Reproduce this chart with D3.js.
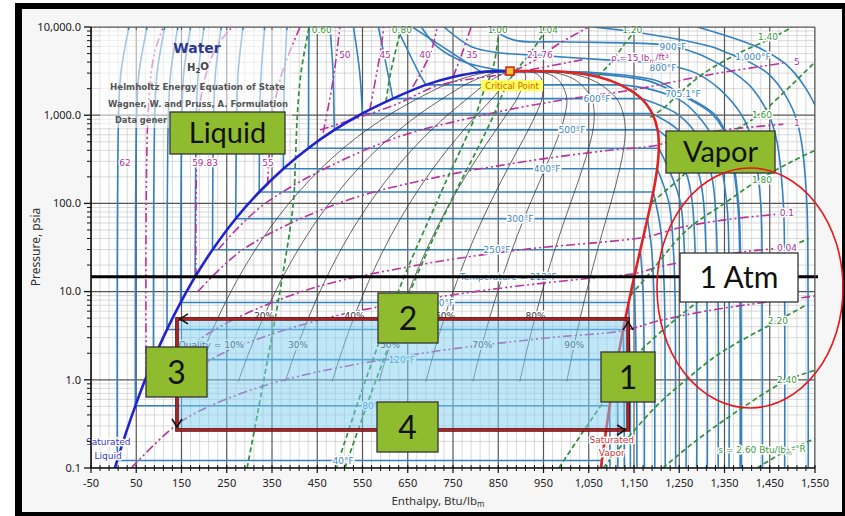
<!DOCTYPE html>
<html>
<head>
<meta charset="utf-8">
<script src="https://cdn.jsdelivr.net/npm/d3@7/dist/d3.min.js"></script>
<style>
html,body{margin:0;padding:0;background:#fff;}
svg{display:block;}
</style>
</head>
<body>
<svg id="chart" width="845" height="516"></svg>
<script>
// ================= DATA =================
const xTickVals = [-50, 50, 150, 250, 350, 450, 550, 650, 750, 850, 950, 1050, 1150, 1250, 1350, 1450, 1550];
const yTickVals = [0.1, 1, 10, 100, 1000, 10000];

// saturation table (T °F, P psia, hf, hg Btu/lbm)
const satT  = [32, 40, 60, 80, 100, 120, 140, 150, 160, 180, 200, 212, 250, 300, 350, 400, 450, 500, 550, 600, 650, 680, 700, 705.1];
const satP  = [0.0887, 0.1217, 0.2564, 0.507, 0.9505, 1.695, 2.892, 3.718, 4.745, 7.515, 11.53, 14.70, 29.84, 67.03, 134.6, 247.3, 422.6, 680.9, 1045, 1542, 2208, 2710, 3093, 3160];
const satHf = [0, 8, 28, 48, 68, 88, 108, 118, 128, 148, 168, 180, 218.6, 269.7, 321.8, 375.1, 430.2, 487.9, 549.6, 617, 690, 750, 812, 876];
const satHg = [1075.2, 1079, 1087.7, 1096.4, 1105, 1113.6, 1122, 1126.1, 1130.2, 1138.2, 1146, 1150.5, 1164, 1179.7, 1192.6, 1201.2, 1204.8, 1202.2, 1190.2, 1166.4, 1120, 1072, 1000, 876];

// isotherms (subcritical)
const isoT      = [40, 80, 120, 150, 180, 212, 250, 300, 350, 400, 450, 500, 550, 600, 650, 700];
const liqH1000  = [11, 51, 91, 121, 151, 183, 221, 272, 323, 376, 431, 487, null, null, null, null];
const liqH3000  = [16, 56, 96, 126, 155, 187, 225, 275, 326, 378, 431, 485, 544, 606, 675, null];
const liqH10000 = [34, 74, 113, 142, 170, 200, 238, 286, 334, 383, 432, 478, 530, 585, 625, 660];
const vapIso = [
  [[0.1, 1079.1]],
  [[0.1, 1096.9]],
  [[0.1, 1114.3]],
  [[1, 1127.8], [0.1, 1128.6]],
  [[1, 1141.6], [0.1, 1142]],
  [[1, 1155.6], [0.1, 1156.5]],
  [[10, 1170], [1, 1172.7], [0.1, 1173]],
  [[30, 1189], [10, 1193.8], [1, 1195.7], [0.1, 1196]],
  [[50, 1209], [10, 1217], [1, 1218.7], [0.1, 1219]],
  [[100, 1227.5], [30, 1237], [10, 1240.6], [1, 1241.8], [0.1, 1242]],
  [[200, 1234], [100, 1253], [10, 1264], [0.1, 1265]],
  [[500, 1231.2], [200, 1268], [100, 1279], [10, 1287.6], [0.1, 1288.5]],
  [[700, 1245], [500, 1266], [200, 1295], [100, 1304], [10, 1311], [0.1, 1312]],
  [[1000, 1248.8], [500, 1298.3], [200, 1322], [100, 1329.3], [10, 1335.5], [0.1, 1336]],
  [[2000, 1180], [1500, 1250], [1000, 1290], [500, 1329], [100, 1355], [10, 1360], [0.1, 1360]],
  [[3000, 1040], [2500, 1175], [2000, 1224], [1000, 1325], [500, 1357.7], [100, 1379.2], [10, 1384], [0.1, 1384.5]]
];
// isotherms (critical / supercritical), [p, h]
const superT = [705.1, 800, 900, 1000, 1100];
const superIso = [
  [[10000, 680], [6000, 715], [4000, 775], [3400, 830], [3160, 876], [3050, 1060], [2500, 1195], [2000, 1235], [1740, 1255], [1000, 1330], [500, 1360], [100, 1381], [10, 1386], [0.1, 1387]],
  [[10000, 730], [6000, 790], [5100, 850], [4800, 930], [4300, 1070], [3900, 1200], [3400, 1255], [3000, 1287], [2000, 1338], [1000, 1388], [500, 1412], [100, 1430], [10, 1433], [0.1, 1434]],
  [[10000, 830], [7100, 885], [6800, 990], [6400, 1200], [5900, 1245], [5000, 1290], [4000, 1330], [3000, 1372], [2000, 1412], [1000, 1448], [500, 1466], [100, 1480], [10, 1483], [0.1, 1483]],
  [[10000, 1060], [8500, 1170], [6000, 1320], [5000, 1360], [4000, 1405], [3000, 1445], [2000, 1475], [1000, 1506], [500, 1520], [100, 1532], [10, 1534.6], [0.1, 1535]],
  [[10000, 1290], [6000, 1420], [4000, 1480], [3000, 1505], [2000, 1530], [1300, 1550]]
];

// quality lines
const qualities = [0.1, 0.2, 0.3, 0.4, 0.5, 0.6, 0.7, 0.8, 0.9];

// isochores (lbm/ft3), [p, h]
const isochoreRho = ["62", "59.83", "55", "50", "45", "40", "35", "21.76", "15", "5", "1", "0.1", "0.04", "0.01"];
const isochores = [
  [[1.1, 72], [1000, 76], [5000, 90], [10000, 110]],
  [[14.7, 182], [1000, 188], [3000, 205], [6000, 228], [10000, 262]],
  [[160, 340], [1000, 352], [3000, 372], [10000, 412]],
  [[630, 463], [2500, 485], [10000, 500]],
  [[1140, 566], [5000, 589], [10000, 597]],
  [[2090, 661], [5000, 700], [10000, 715]],
  [[2700, 750], [5000, 770], [10000, 790]],
  [[3160, 885], [4200, 930], [6500, 985], [10000, 1050]],
  [[680, 456], [1300, 620], [2200, 721], [3000, 880], [4300, 1040]],
  [[30, 231], [100, 335], [500, 600], [1000, 816], [1500, 996], [1930, 1145], [2900, 1320], [3900, 1480]],
  [[10, 186], [30, 286], [100, 496], [200, 718], [300, 912], [400, 1095], [460, 1204], [560, 1250], [680, 1350], [790, 1480]],
  [[1, 98], [3, 195], [10, 416], [20, 673], [30, 906], [42, 1180], [53, 1250], [65, 1350], [75, 1462]],
  [[1, 145], [2, 241], [5, 470], [10, 799], [14.7, 1082], [16, 1152], [18.8, 1200], [23.7, 1300], [28.6, 1400], [30.5, 1458]],
  [[0.1, 39], [0.3, 136], [0.5, 211], [1, 378], [2, 683], [3, 962], [3.6, 1126], [4.6, 1200], [5.9, 1300], [7.1, 1400], [8.9, 1550]]
];

// isentropes (Btu/lbm-R), [p, h]
const isentropeS = ["0.60", "0.80", "1.00", "1.04", "1.20", "1.40", "1.60", "1.80", "2.00", "2.20", "2.40", "2.60"];
const isentropes = [
  [[0.1, 295], [1, 332], [14.7, 373], [100, 397], [330, 402], [1000, 406], [3000, 414], [10000, 432]],
  [[1430, 602], [3000, 612], [10000, 636]],
  [[0.1, 492], [1, 557], [14.7, 642], [100, 713], [200, 739], [500, 775], [1000, 800], [2000, 820], [3000, 835], [5000, 845], [10000, 852]],
  [[0.1, 511], [1, 580], [14.7, 669], [100, 743], [500, 812], [1000, 840], [2000, 865], [3000, 885], [5000, 920], [10000, 960]],
  [[2750, 1070], [4000, 1100], [6500, 1130], [10000, 1160]],
  [[950, 1186], [1200, 1215], [2000, 1262], [3000, 1305], [5000, 1380], [7700, 1460], [10000, 1500]],
  [[103, 1190], [200, 1255], [500, 1335], [1000, 1425], [2000, 1490], [3000, 1525], [4500, 1560]],
  [[9, 1142], [14.7, 1178], [50, 1267], [100, 1350], [184, 1425], [300, 1500], [400, 1550]],
  [[0.1, 984], [0.3, 1046], [0.5, 1076], [0.7, 1098], [1, 1118], [2, 1160], [5, 1245], [10, 1322], [14.7, 1373], [25, 1452], [40, 1536]],
  [[0.1, 1082], [0.2, 1130], [0.5, 1199], [1, 1265], [2, 1340], [4.6, 1465], [7, 1530]],
  [[0.1, 1214], [0.2, 1285], [0.5, 1394], [1, 1490], [1.3, 1555]],
  [[0.1, 1422], [0.15, 1480], [0.2, 1535], [0.22, 1555]]
];

// cycle rectangle and 1 atm line
const cycleH = [140, 1137];
const cycleP = [0.27, 4.9];
const atmP = 14.7;
const critical = [3160, 876];

// ================= LAYOUT =================
const L = 91, R = 815, T = 27, B = 468;
const x = d3.scaleLinear().domain([-50, 1550]).range([L, R]);
const y = d3.scaleLog().domain([0.1, 10000]).range([B, T]);
const svg = d3.select("#chart");
const FONT = "'DejaVu Sans', 'Noto Sans', sans-serif";

// outer frame
svg.append("rect").attr("x", 0).attr("y", 0).attr("width", 845).attr("height", 516).attr("fill", "#fff");
svg.append("rect").attr("x", 15).attr("y", 3).attr("width", 830).attr("height", 513).attr("fill", "#000");
svg.append("rect").attr("x", 22).attr("y", 9).attr("width", 820).attr("height", 503).attr("fill", "#f6f6f6");
svg.append("rect").attr("x", L).attr("y", T).attr("width", R - L).attr("height", B - T).attr("fill", "#fff");

svg.append("defs").append("clipPath").attr("id", "clip")
  .append("rect").attr("x", L).attr("y", T).attr("width", R - L).attr("height", B - T);

const g = svg.append("g").attr("clip-path", "url(#clip)");

// grid
const minorH = d3.range(-50, 1551, 20).filter(v => (v + 50) % 100 !== 0);
const minorP = [];
yTickVals.slice(0, -1).forEach(dec => { for (let m = 2; m <= 9; m++) minorP.push(dec * m); });
g.selectAll(".vmin").data(minorH).join("line")
  .attr("x1", d => x(d)).attr("x2", d => x(d)).attr("y1", T).attr("y2", B)
  .attr("stroke", "#c9c9c9").attr("stroke-width", 0.7);
g.selectAll(".hmin").data(minorP).join("line")
  .attr("x1", L).attr("x2", R).attr("y1", d => y(d)).attr("y2", d => y(d))
  .attr("stroke", "#c9c9c9").attr("stroke-width", 0.7);
g.selectAll(".vmaj").data(xTickVals).join("line")
  .attr("x1", d => x(d)).attr("x2", d => x(d)).attr("y1", T).attr("y2", B)
  .attr("stroke", "#555").attr("stroke-width", 1.2);
g.selectAll(".hmaj").data(yTickVals).join("line")
  .attr("x1", L).attr("x2", R).attr("y1", d => y(d)).attr("y2", d => y(d))
  .attr("stroke", "#555").attr("stroke-width", 1.2);

const curve = d3.line().x(d => x(d[1])).y(d => y(d[0])).curve(d3.curveCatmullRom.alpha(0.5));
const straight = d3.line().x(d => x(d[1])).y(d => y(d[0]));

// isotherms
const BLUE = "#3382bf";
isoT.forEach((t, i) => {
  const k = satT.indexOf(t);
  const liq = [[satP[k], satHf[k]]];
  if (liqH1000[i] !== null && satP[k] < 1000) liq.push([1000, liqH1000[i]]);
  if (liqH3000[i] !== null && satP[k] < 3000) liq.push([3000, liqH3000[i]]);
  liq.push([10000, liqH10000[i]]);
  g.append("path").attr("d", curve(liq)).attr("fill", "none").attr("stroke", BLUE).attr("stroke-width", 1.6);
  g.append("path").attr("d", straight([[satP[k], satHf[k]], [satP[k], satHg[k]]]))
    .attr("fill", "none").attr("stroke", BLUE).attr("stroke-width", 1.6);
  g.append("path").attr("d", curve([[satP[k], satHg[k]], ...vapIso[i]]))
    .attr("fill", "none").attr("stroke", BLUE).attr("stroke-width", 1.6);
});
superIso.forEach(pts => {
  g.append("path").attr("d", curve(pts)).attr("fill", "none").attr("stroke", BLUE).attr("stroke-width", 1.6);
});

// quality lines
const qRows = satT.map((t, i) => i).filter(i => satT[i] >= 100);
qualities.forEach(q => {
  const pts = qRows.map(i => [satP[i], satHf[i] + q * (satHg[i] - satHf[i])]);
  g.append("path").attr("d", curve(pts)).attr("fill", "none").attr("stroke", "#333").attr("stroke-width", 0.75);
});

// isochores
const MAG = "#b8339c";
isochores.forEach(pts => {
  g.append("path").attr("d", curve(pts)).attr("fill", "none").attr("stroke", MAG)
    .attr("stroke-width", 1.6).attr("stroke-dasharray", "9,3,2,3,2,3");
});

// isentropes
const GRN = "#2f8f3a";
isentropes.forEach(pts => {
  g.append("path").attr("d", curve(pts)).attr("fill", "none").attr("stroke", GRN)
    .attr("stroke-width", 1.7).attr("stroke-dasharray", "5,3");
});

// saturation dome
g.append("path").attr("d", curve(satT.map((t, i) => [satP[i], satHf[i]])))
  .attr("fill", "none").attr("stroke", "#2222cc").attr("stroke-width", 2.6);
g.append("path").attr("d", curve(satT.map((t, i) => [satP[i], satHg[i]])))
  .attr("fill", "none").attr("stroke", "#dd2323").attr("stroke-width", 2.6);

// faded backdrop behind the title block
svg.append("rect").attr("x", 100).attr("y", 30).attr("width", 192).attr("height", 98)
  .attr("fill", "#fff").attr("fill-opacity", 0.55);

// ---------- labels ----------
function lbl(txt, h, p, color, size, anchor) {
  return svg.append("text").attr("x", x(h)).attr("y", y(p)).attr("dy", "0.35em")
    .attr("text-anchor", anchor || "middle").attr("font-family", FONT).attr("font-size", size || 9)
    .attr("fill", color).attr("paint-order", "stroke").attr("stroke", "#fff")
    .attr("stroke-width", 3).attr("stroke-linejoin", "round").text(txt);
}
// isotherm labels
[["600°F", 1068, 1542], ["500°F", 1013, 681], ["400°F", 958, 247], ["300°F", 898, 67],
 ["250°F", 847, 29.84], ["Temperature = 212°F", 872, 14.7], ["180°F", 723, 7.515], ["120°F", 637, 1.695],
 ["80°F", 573, 0.507], ["40°F", 507, 0.1217], ["705.1°F", 1258, 1740], ["800°F", 1214, 3430],
 ["900°F", 1236, 5930], ["1,000°F", 1413, 4570]].forEach(d => lbl(d[0], d[1], d[2], "#3a86c2", 9));

// quality labels
function hAtP(q, p) {
  const lp = Math.log10(p);
  for (let j = 0; j < qRows.length - 1; j++) {
    const a = qRows[j], b = qRows[j + 1];
    const la = Math.log10(satP[a]), lb = Math.log10(satP[b]);
    if (lp >= la && lp <= lb) {
      const f = (lp - la) / (lb - la);
      const ha = satHf[a] + q * (satHg[a] - satHf[a]);
      const hb = satHf[b] + q * (satHg[b] - satHf[b]);
      return ha + f * (hb - ha);
    }
  }
  return 0;
}
qualities.forEach((q, i) => {
  const p = i % 2 === 0 ? 2.5 : 5.3;
  const txt = i === 0 ? "Quality = 10%" : Math.round(q * 100) + "%";
  lbl(txt, hAtP(q, p) + (i === 0 ? 12 : 0), p, "#333", 9);
});

// isochore labels
[["62", 25, 287], ["59.83", 202, 287], ["55", 341, 287], ["50", 511, 4820], ["45", 600, 4820],
 ["40", 688, 4820], ["35", 792, 4820], ["21.76", 942, 4820], ["5", 1510, 4010], ["1", 1510, 817],
 ["0.1", 1488, 77.8], ["0.04", 1488, 31.2]].forEach(d => lbl(d[0], d[1], d[2], "#b0309a", 9));
{
  const t = lbl("", 1163, 4460, "#b0309a", 9);
  t.append("tspan").text("ρ =15 lb");
  t.append("tspan").attr("font-size", 6).attr("dy", "0.25em").text("m");
  t.append("tspan").attr("dy", "-0.25em").text("/ft");
  t.append("tspan").attr("font-size", 6).attr("dy", "-0.45em").text("3");
}
// isentrope labels
[["0.60", 460, 9245], ["0.80", 637, 9245], ["1.00", 849, 9245], ["1.04", 960, 9245], ["1.20", 1146, 9245],
 ["1.40", 1446, 7700], ["1.60", 1433, 1000], ["1.80", 1433, 184], ["2.20", 1468, 4.6], ["2.40", 1488, 1.0]]
 .forEach(d => lbl(d[0], d[1], d[2], "#3a9a3a", 9));
{
  const t = lbl("", 1433, 0.16, "#3a9a3a", 9);
  t.append("tspan").text("s = 2.60 Btu/lb");
  t.append("tspan").attr("font-size", 6).attr("dy", "0.25em").text("m");
  t.append("tspan").attr("dy", "-0.25em").text("-°R");
}
// saturated labels
lbl("Saturated", -12, 0.2, "#3535c8", 9); lbl("Liquid", -12, 0.137, "#3535c8", 9);
lbl("Saturated", 1101, 0.208, "#cc3535", 9); lbl("Vapor", 1101, 0.15, "#cc3535", 9);

// ---------- cycle ----------
const cx0 = x(cycleH[0]), cx1 = x(cycleH[1]), cyT = y(cycleP[1]), cyB = y(cycleP[0]);
svg.append("rect").attr("x", cx0).attr("y", cyT).attr("width", cx1 - cx0).attr("height", cyB - cyT)
  .attr("fill", "#7fd0f2").attr("fill-opacity", 0.5);
svg.append("rect").attr("x", cx0).attr("y", cyT).attr("width", cx1 - cx0).attr("height", cyB - cyT)
  .attr("fill", "none").attr("stroke", "#5a0808").attr("stroke-width", 3.6);
svg.append("rect").attr("x", cx0).attr("y", cyT).attr("width", cx1 - cx0).attr("height", cyB - cyT)
  .attr("fill", "none").attr("stroke", "#c0282c").attr("stroke-width", 1.6);
const arrows = [
  `M${cx0 + 11},${cyT - 5} L${cx0 + 3},${cyT} L${cx0 + 11},${cyT + 5}`,
  `M${cx0 - 5},${cyB - 11} L${cx0},${cyB - 3} L${cx0 + 5},${cyB - 11}`,
  `M${cx1 - 11},${cyB - 5} L${cx1 - 3},${cyB} L${cx1 - 11},${cyB + 5}`,
  `M${cx1 - 5},${cyT + 11} L${cx1},${cyT + 3} L${cx1 + 5},${cyT + 11}`
];
arrows.forEach(d => svg.append("path").attr("d", d).attr("fill", "none").attr("stroke", "#111").attr("stroke-width", 1.6));

// 1 atm line
svg.append("line").attr("x1", L).attr("x2", R + 3).attr("y1", y(atmP)).attr("y2", y(atmP))
  .attr("stroke", "#000").attr("stroke-width", 3);

// critical point
svg.append("rect").attr("x", 481).attr("y", y(critical[0]) + 9).attr("width", 62).attr("height", 11).attr("fill", "#ffff5a");
svg.append("text").attr("x", 512).attr("y", y(critical[0]) + 14.5).attr("dy", "0.35em").attr("text-anchor", "middle")
  .attr("font-family", FONT).attr("font-size", 8.5).attr("fill", "#e05a00").text("Critical Point");
svg.append("rect").attr("x", x(critical[1]) - 4).attr("y", y(critical[0]) - 4).attr("width", 8).attr("height", 8)
  .attr("fill", "#ffc23a").attr("stroke", "#d41c00").attr("stroke-width", 1.5);

// ---------- axes ----------
svg.append("line").attr("x1", L).attr("x2", R).attr("y1", T).attr("y2", T).attr("stroke", "#555");
svg.append("line").attr("x1", R).attr("x2", R).attr("y1", T).attr("y2", B).attr("stroke", "#555");
svg.append("line").attr("x1", L).attr("x2", R).attr("y1", B).attr("y2", B).attr("stroke", "#111").attr("stroke-width", 1.6);
svg.append("line").attr("x1", L).attr("x2", L).attr("y1", T).attr("y2", B).attr("stroke", "#111").attr("stroke-width", 1.6);
svg.selectAll(".xt").data(minorH).join("line").attr("x1", d => x(d)).attr("x2", d => x(d))
  .attr("y1", B - 3).attr("y2", B + 3).attr("stroke", "#111").attr("stroke-width", 1);
svg.selectAll(".xT").data(xTickVals).join("line").attr("x1", d => x(d)).attr("x2", d => x(d))
  .attr("y1", B - 3).attr("y2", B + 5).attr("stroke", "#111").attr("stroke-width", 1.2);
svg.selectAll(".yt").data(minorP).join("line").attr("x1", L - 4).attr("x2", L).attr("y1", d => y(d)).attr("y2", d => y(d))
  .attr("stroke", "#111").attr("stroke-width", 1);
svg.selectAll(".yT").data(yTickVals).join("line").attr("x1", L - 7).attr("x2", L).attr("y1", d => y(d)).attr("y2", d => y(d))
  .attr("stroke", "#111").attr("stroke-width", 1.3);
const fmtX = d => d < 0 ? "-" + Math.abs(d) : d3.format(",")(d);
svg.selectAll(".xl").data(xTickVals).join("text").attr("x", d => x(d)).attr("y", B + 15)
  .attr("dy", "0.35em").attr("text-anchor", "middle").attr("font-family", "'Noto Sans', sans-serif")
  .attr("font-size", 11).attr("fill", "#222").text(fmtX);
svg.selectAll(".yl").data(yTickVals).join("text").attr("x", L - 10).attr("y", d => y(d))
  .attr("dy", "0.35em").attr("text-anchor", "end").attr("font-family", "'Noto Sans', sans-serif")
  .attr("font-size", 11).attr("fill", "#222").text(d => d3.format(",.1f")(d));
{
  const t = svg.append("text").attr("x", 438).attr("y", 505).attr("text-anchor", "middle")
    .attr("font-family", "'Noto Sans', sans-serif").attr("font-size", 11.5).attr("fill", "#333");
  t.append("tspan").text("Enthalpy, Btu/lb");
  t.append("tspan").attr("font-size", 8).attr("dy", "0.3em").text("m");
}
svg.append("text").attr("transform", "translate(40,247) rotate(-90)").attr("text-anchor", "middle")
  .attr("font-family", "'Noto Sans', sans-serif").attr("font-size", 12).attr("fill", "#333").text("Pressure, psia");

// ---------- title block ----------
svg.append("text").attr("x", 197).attr("y", 53).attr("text-anchor", "middle").attr("font-family", FONT)
  .attr("font-size", 14).attr("font-weight", "bold").attr("fill", "#2b3990").text("Water");
{
  const t = svg.append("text").attr("x", 198).attr("y", 71).attr("text-anchor", "middle").attr("font-family", FONT)
    .attr("font-size", 10).attr("fill", "#444").attr("font-weight", "bold");
  t.append("tspan").text("H");
  t.append("tspan").attr("font-size", 7).attr("dy", "0.3em").text("2");
  t.append("tspan").attr("dy", "-0.3em").text("O");
}
svg.append("text").attr("x", 110).attr("y", 90).attr("font-family", FONT).attr("font-size", 8.5)
  .attr("font-weight", "bold").attr("fill", "#555").attr("textLength", 175).attr("lengthAdjust", "spacingAndGlyphs")
  .text("Helmholtz Energy Equation of State");
svg.append("text").attr("x", 108).attr("y", 107).attr("font-family", FONT).attr("font-size", 8.5)
  .attr("font-weight", "bold").attr("fill", "#555").attr("textLength", 180).attr("lengthAdjust", "spacingAndGlyphs")
  .text("Wagner, W. and Pruss, A. Formulation");
svg.append("text").attr("x", 115).attr("y", 123).attr("font-family", FONT).attr("font-size", 8.5)
  .attr("font-weight", "bold").attr("fill", "#555").attr("textLength", 52).attr("lengthAdjust", "spacingAndGlyphs")
  .text("Data gener");

// ---------- annotation boxes ----------
function box(x0, y0, x1, y1, fill, txt, fs) {
  svg.append("rect").attr("x", x0).attr("y", y0).attr("width", x1 - x0).attr("height", y1 - y0)
    .attr("fill", fill).attr("stroke", "#333").attr("stroke-width", 1.3);
  svg.append("text").attr("x", (x0 + x1) / 2).attr("y", (y0 + y1) / 2).attr("dy", "0.36em")
    .attr("text-anchor", "middle").attr("font-family", "Lato, 'Open Sans', sans-serif")
    .attr("font-size", fs).attr("fill", "#111").text(txt);
}
const GBOX = "#8fbc2f";
box(170, 112, 285, 154, GBOX, "Liquid", 29);
box(666, 131, 775, 173, GBOX, "Vapor", 29);
box(378, 293, 438, 343, GBOX, "2", 32);
box(146, 347, 207, 397, GBOX, "3", 32);
box(377, 402, 438, 452, GBOX, "4", 32);
box(601, 352, 655, 402, GBOX, "1", 32);
box(680, 253, 798, 302, "#fff", "1 Atm", 30);

// red ellipse
svg.append("ellipse").attr("cx", 750).attr("cy", 288).attr("rx", 93).attr("ry", 120)
  .attr("fill", "none").attr("stroke", "#e8151b").attr("stroke-width", 1.6);
</script>
</body>
</html>
